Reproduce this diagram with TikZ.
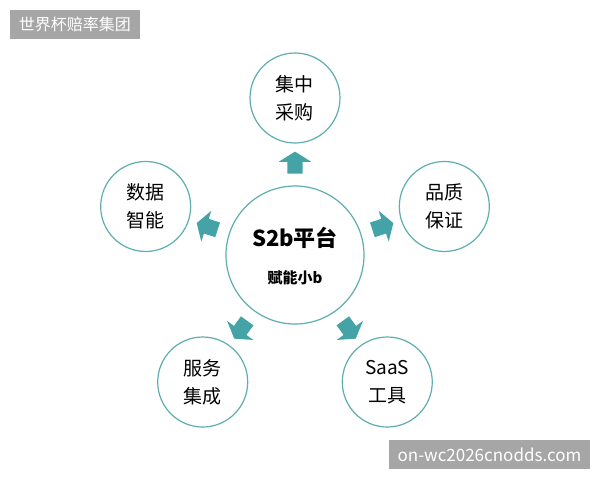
\documentclass[tikz,border=0pt]{standalone}
\usepackage{fontspec}
\setmainfont{Noto Sans CJK SC}
\usetikzlibrary{shapes.arrows, calc}

\definecolor{ringteal}{HTML}{5EAEAF}
\definecolor{arrowteal}{HTML}{43A3A6}
\definecolor{markgray}{HTML}{A6A6A6}

\tikzset{
    hub/.style={circle, draw=ringteal, line width=1.2pt, minimum size=138pt, inner sep=0pt},
    ring/.style={circle, draw=ringteal, line width=1.2pt, minimum size=90pt, inner sep=0pt,
        align=center, font=\fontsize{19}{28}\selectfont},
    blockarrow/.style={single arrow, fill=arrowteal, draw=none, inner xsep=0pt, inner ysep=7.5pt,
        minimum height=22pt, single arrow head extend=8.5pt, single arrow tip angle=116},
    stamp/.style={fill=markgray, text=white, inner sep=0pt}
}

\begin{document}
\begin{tikzpicture}[x=1pt, y=1pt]
    \useasboundingbox[fill=white] (-295,-225) rectangle (305,255);

    % Centre hub
    \node[hub] (hub) at (0,0) {};
    \node[font=\bfseries\fontsize{22}{26}\selectfont] (hubtitle) at (0,17) {S2b平台};
    \node[font=\bfseries\fontsize{15}{18}\selectfont] (hubsub) at (0,-23) {赋能小b};

    % Outer rings and arrows
    \foreach \a/\name/\label in {
        90/buy/集中\\采购,
        18/quality/品质\\保证,
        306/saas/SaaS\\工具,
        234/service/服务\\集成,
        162/data/数据\\智能
    }{
        \node[ring] (\name) at (\a:157) {\label};
        \node[blockarrow, rotate=\a] (\name arrow) at ($(hub)!0.573!(\name)$) {};
    }

    % Watermarks
    \node[stamp, minimum width=130pt, minimum height=29pt, font=\fontsize{16}{18}\selectfont]
        (marktop) at (-220,230.5) {世界杯赔率集团};
    \node[stamp, minimum width=201pt, minimum height=29pt, font=\fontsize{17}{19}\selectfont]
        (markbottom) at (194.5,-199.5) {on-wc2026cnodds.com};
\end{tikzpicture}
\end{document}
